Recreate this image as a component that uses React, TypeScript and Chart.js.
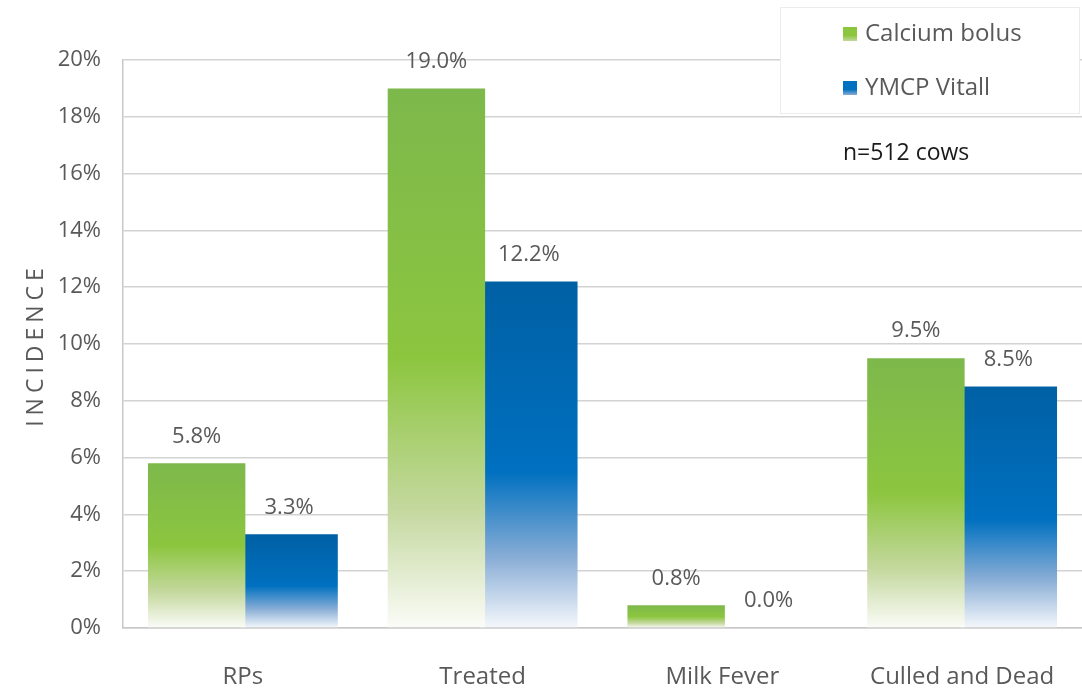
import React, { useEffect, useRef } from "react";
import { Chart, registerables } from "chart.js";

Chart.register(...registerables);

const categories = ["RPs", "Treated", "Milk Fever", "Culled and Dead"];
const calciumBolus = [5.8, 19.0, 0.8, 9.5];
const ymcpVitall = [3.3, 12.2, 0.0, 8.5];
const seriesNames = ["Calcium bolus", "YMCP Vitall"];
const yMin = 0;
const yMax = 20;
const yStep = 2;
const noteText = "n=512 cows";
const axisTitle = "INCIDENCE";

const FONT = "'Open Sans', 'DejaVu Sans', sans-serif";
const TEXT = "#595959";

const greenStops: [number, string][] = [
  [0, "#7db84c"],
  [0.5, "#8cc63f"],
  [0.78, "#c4d89e"],
  [1, "#fbfcf8"],
];
const blueStops: [number, string][] = [
  [0, "#0060a4"],
  [0.55, "#0070c0"],
  [0.8, "#8aaed6"],
  [1, "#f5f8fc"],
];

function barGradient(stops: [number, string][]) {
  return (ctx: any) => {
    const chart = ctx.chart;
    const ys = chart.scales && chart.scales.y;
    if (!ys || ctx.type !== "data") return stops[1][1];
    const top = ys.getPixelForValue(ctx.raw);
    const base = ys.getPixelForValue(0);
    if (!isFinite(top) || !isFinite(base) || base - top < 2) return stops[1][1];
    const g = chart.ctx.createLinearGradient(0, top, 0, base);
    stops.forEach(([o, c]) => g.addColorStop(o, c));
    return g;
  };
}

const valueLabels = {
  id: "valueLabels",
  afterDatasetsDraw(chart: any) {
    const ctx = chart.ctx;
    ctx.save();
    ctx.font = `22px ${FONT}`;
    ctx.fillStyle = TEXT;
    ctx.textAlign = "center";
    ctx.textBaseline = "middle";
    chart.data.datasets.forEach((ds: any, i: number) => {
      const meta = chart.getDatasetMeta(i);
      meta.data.forEach((el: any, j: number) => {
        ctx.fillText(Number(ds.data[j]).toFixed(1) + "%", el.x, el.y - 27);
      });
    });
    ctx.restore();
  },
};

const decorations = {
  id: "decorations",
  afterDraw(chart: any) {
    const ctx = chart.ctx;
    ctx.save();
    ctx.translate(36, 345);
    ctx.rotate(-Math.PI / 2);
    ctx.font = `23px ${FONT}`;
    ctx.fillStyle = TEXT;
    ctx.textAlign = "center";
    ctx.textBaseline = "middle";
    try {
      (ctx as any).letterSpacing = "5px";
    } catch (e) {}
    ctx.fillText(axisTitle, 0, 0);
    ctx.restore();

    ctx.save();
    ctx.fillStyle = "#ffffff";
    ctx.fillRect(780, 7, 300, 107);
    ctx.strokeStyle = "#ececec";
    ctx.lineWidth = 1;
    ctx.strokeRect(780.5, 7.5, 299, 106);
    const colors = [greenStops, blueStops];
    const ys = [34, 88];
    seriesNames.forEach((name, i) => {
      const g = ctx.createLinearGradient(0, ys[i] - 7, 0, ys[i] + 7);
      g.addColorStop(0, colors[i][1][1]);
      g.addColorStop(0.6, colors[i][1][1]);
      g.addColorStop(1, colors[i][2][1]);
      ctx.fillStyle = g;
      ctx.fillRect(843, ys[i] - 7, 14, 14);
      ctx.fillStyle = TEXT;
      ctx.font = `24px ${FONT}`;
      ctx.textAlign = "left";
      ctx.textBaseline = "middle";
      ctx.fillText(name, 865, ys[i]);
    });
    ctx.fillStyle = "#1a1a1a";
    ctx.font = `23px ${FONT}`;
    ctx.fillText(noteText, 843, 153);
    ctx.restore();
  },
};

export default function App() {
  const ref = useRef<HTMLCanvasElement | null>(null);
  useEffect(() => {
    if (!ref.current) return;
    const chart = new Chart(ref.current, {
      type: "bar",
      data: {
        labels: categories,
        datasets: [
          {
            label: seriesNames[0],
            data: calciumBolus,
            backgroundColor: barGradient(greenStops),
            borderWidth: 0,
            categoryPercentage: 0.771,
            barPercentage: 1.054,
          },
          {
            label: seriesNames[1],
            data: ymcpVitall,
            backgroundColor: barGradient(blueStops),
            borderWidth: 0,
            categoryPercentage: 0.771,
            barPercentage: 1.054,
          },
        ],
      },
      options: {
        responsive: false,
        animation: false,
        devicePixelRatio: 1,
        layout: { padding: { left: 8, top: 60, right: 0, bottom: 0 } },
        plugins: {
          legend: { display: false },
          tooltip: { enabled: false },
          title: { display: false },
        },
        scales: {
          x: {
            grid: { display: false, drawTicks: false },
            border: { display: true, color: "#c8c8c8", width: 1.5 },
            ticks: {
              color: TEXT,
              font: { family: FONT, size: 24, lineHeight: 1.9 },
              padding: 26,
              maxRotation: 0,
            },
            afterFit: (s: any) => {
              s.height = 64;
            },
          },
          y: {
            min: yMin,
            max: yMax,
            ticks: {
              stepSize: yStep,
              color: TEXT,
              font: { family: FONT, size: 22 },
              padding: 22,
              callback: (v: any) => v + "%",
            },
            grid: { color: "#d3d3d3", lineWidth: 1.5, drawTicks: false },
            border: { display: true, color: "#c8c8c8", width: 1.5 },
            afterFit: (s: any) => {
              s.width = 115;
            },
          },
        },
      },
      plugins: [valueLabels, decorations],
    });
    return () => chart.destroy();
  }, []);
  return (
    <div style={{ position: "fixed", left: 0, top: 0, width: 1082, height: 692, background: "#fff" }}>
      <canvas ref={ref} width={1082} height={692} style={{ display: "block" }} />
    </div>
  );
}
